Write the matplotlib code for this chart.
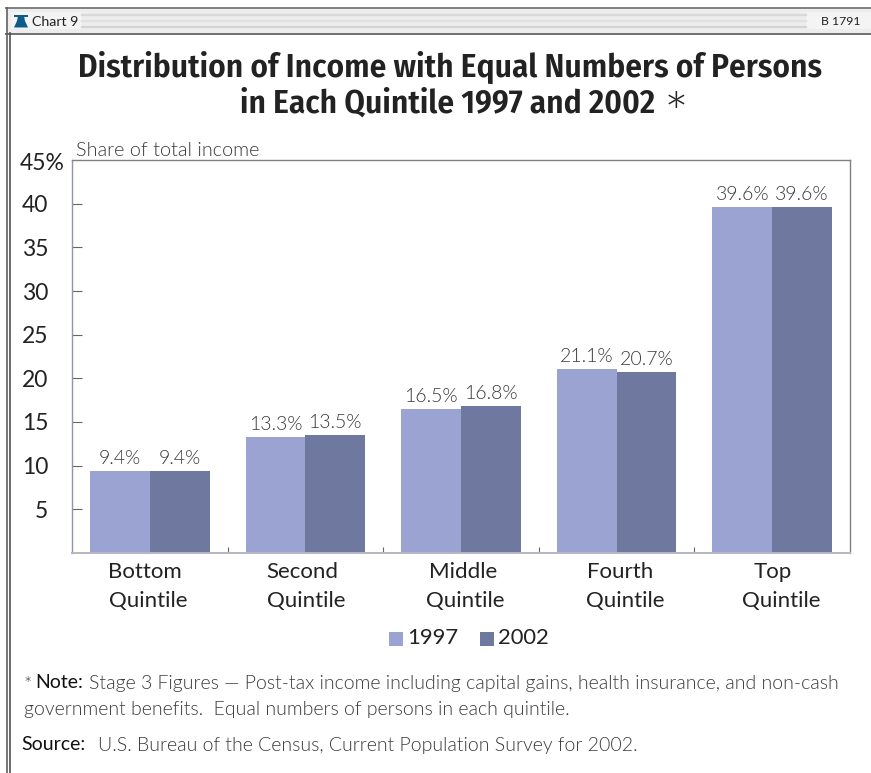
import matplotlib
matplotlib.use("Agg")
import matplotlib.pyplot as plt
from matplotlib import font_manager as fm
from matplotlib.patches import Rectangle, Polygon
import numpy as np

plt.rcParams['font.family'] = ['Lato', 'DejaVu Sans']

categories = ["Bottom\nQuintile", "Second\nQuintile", "Middle\nQuintile", "Fourth\nQuintile", "Top\nQuintile"]
values_1997 = [9.4, 13.3, 16.5, 21.1, 39.6]
values_2002 = [9.4, 13.5, 16.8, 20.7, 39.6]
y_ticks = [5, 10, 15, 20, 25, 30, 35, 40]
series_names = ["1997", "2002"]
colors = ["#9BA3D3", "#6F789E"]

W, H = 871, 773
INK = "#222222"
SOFT = "#3A3A3A"

# Horizontal centres of the two-line category captions, in figure pixels
CAPTION_X = [(145, 148.5), (302.5, 306), (463, 465), (620.5, 625), (773, 781.5)]
CAPTION_BASELINES = (578, 607)

FONT_FILES = {p.rsplit("/", 1)[-1]: p for p in fm.findSystemFonts()}


def face(file_names, size, family="Lato", weight="normal"):
    # Use the first named font file present, otherwise an ordinary family face
    for name in file_names:
        if name in FONT_FILES:
            return fm.FontProperties(fname=FONT_FILES[name], size=size)
    return fm.FontProperties(family=family, weight=weight, size=size)


def light(size):
    return face(["Lato-Light.ttf"], size)


def narrow_bold(size):
    return face(["FiraSansCondensed-SemiBold.ttf", "PTSansNarrow-Bold.ttf", "RobotoCondensed-Bold.ttf"],
                size, family="Open Sans", weight="bold")


fig = plt.figure(figsize=(W / 100, H / 100), dpi=100, facecolor="white")

# Full-figure pixel canvas for the page furniture
bg = fig.add_axes([0, 0, 1, 1])
bg.set_xlim(0, W)
bg.set_ylim(H, 0)
bg.axis("off")

# Header band with its rules
bg.add_patch(Rectangle((7, 8), W - 7, 26, fc="#EDEDED", ec="none"))
bg.plot([6, W], [8, 8], color="#808080", lw=1.4)
bg.plot([6, W], [33.5, 33.5], color="#707070", lw=1.4)
bg.plot([6.5, 6.5], [8, H], color="#606060", lw=1.2)
bg.plot([9.5, 9.5], [33, H], color="#505050", lw=1.2)
for y, c in [(15, "#D8D8D8"), (20.5, "#E0E0E0"), (26.5, "#D4D4D4")]:
    bg.plot([82, 806], [y, y], color=c, lw=1.6)
bg.add_patch(Rectangle((11, 12), 71, 17, fc="#F4F4F4", ec="none"))
bg.add_patch(Rectangle((806, 12), W - 806, 17, fc="#F4F4F4", ec="none"))

# Small bell emblem beside the chart number
bg.add_patch(Polygon([(14, 27.5), (17, 21), (18, 16), (24, 16), (25, 21), (28, 27.5)],
                     closed=True, fc="#0F5A8C", ec="none"))
bg.add_patch(Rectangle((14, 14.5), 14, 2, fc="#0F5A8C", ec="none"))
bg.text(32, 21.5, "Chart 9", fontsize=10.2, color=INK, va="center", ha="left")
bg.text(821, 21.5, "B 1791", fontsize=8.8, color=INK, va="center", ha="left")

# Title
TITLE_SIZE = 23.9
bg.text(449.5, 67, "Distribution of Income with Equal Numbers of Persons",
        fontproperties=narrow_bold(TITLE_SIZE), color=INK, ha="center", va="center")
bg.text(447.5, 104, "in Each Quintile 1997 and 2002",
        fontproperties=narrow_bold(TITLE_SIZE), color=INK, ha="center", va="center")
bg.text(664, 118, "*", fontproperties=light(42), color=INK, ha="left", va="center")

# Plot area
ax = fig.add_axes([72 / W, 1 - 553 / H, 778 / W, 393 / H])
x = np.arange(len(categories)) + 0.5
bw = 0.384
ax.bar(x - bw / 2, values_1997, bw, color=colors[0], zorder=2)
ax.bar(x + bw / 2, values_2002, bw, color=colors[1], zorder=2)
ax.set_xlim(0, 5)
ax.set_ylim(0, 45)

for xi, a, b in zip(x, values_1997, values_2002):
    ax.annotate(f"{a}%", (xi - bw / 2, a), xytext=(0, 3), textcoords="offset points",
                ha="center", va="bottom", fontproperties=light(14), color=SOFT)
    ax.annotate(f"{b}%", (xi + bw / 2, b), xytext=(0, 3), textcoords="offset points",
                ha="center", va="bottom", fontproperties=light(14), color=SOFT)

for name in ("top", "right"):
    ax.spines[name].set_color("#808080")
    ax.spines[name].set_linewidth(1.0)
ax.spines["left"].set_color("#8E96A8")
ax.spines["left"].set_linewidth(1.0)
ax.spines["bottom"].set_color("#B4B8C0")
ax.spines["bottom"].set_linewidth(1.4)

ax.set_yticks(y_ticks)
ax.tick_params(axis="y", direction="in", length=7, width=0.8, color="#666666",
               labelsize=16.5, labelcolor=INK, pad=17)
ax.set_xticks(np.arange(1, 5))
ax.set_xticklabels([])
ax.tick_params(axis="x", direction="in", length=4, width=0.8, color="#666666")

# Category captions sit on the page canvas, one text per line
for label, centres in zip(categories, CAPTION_X):
    for line, cx, base in zip(label.split("\n"), centres, CAPTION_BASELINES):
        bg.text(cx, base, line, fontsize=16, color=INK, ha="center", va="baseline")

bg.text(65, 164, "45%", fontsize=16.5, color=INK, ha="right", va="center")
bg.text(76, 150, "Share of total income", fontproperties=light(14.3),
        color=SOFT, ha="left", va="center")

# Legend
for px, col, tx, name in zip((389, 480), colors, (407, 498), series_names):
    bg.add_patch(Rectangle((px, 632), 14, 14, fc=col, ec="none"))
    bg.text(tx, 638.5, name, fontsize=15.8, color=INK, ha="left", va="center")

# Footnotes
NOTE = 14.0
bg.text(24, 685, "*", fontproperties=light(NOTE), color=SOFT, ha="left", va="center")
bg.text(35, 683, "Note:", fontsize=NOTE, color="#111111", ha="left", va="center")
bg.text(89, 683,
        "Stage 3 Figures \u2014 Post-tax income including capital gains, health insurance, and non-cash",
        fontproperties=light(NOTE), color=SOFT, ha="left", va="center")
bg.text(24, 709, "government benefits.  Equal numbers of persons in each quintile.",
        fontproperties=light(NOTE), color=SOFT, ha="left", va="center")
bg.text(21, 745, "Source:", fontsize=NOTE, color="#111111", ha="left", va="center")
bg.text(98, 745, "U.S. Bureau of the Census, Current Population Survey for 2002.",
        fontproperties=light(NOTE), color=SOFT, ha="left", va="center")

fig.savefig("out.png", dpi=100)
